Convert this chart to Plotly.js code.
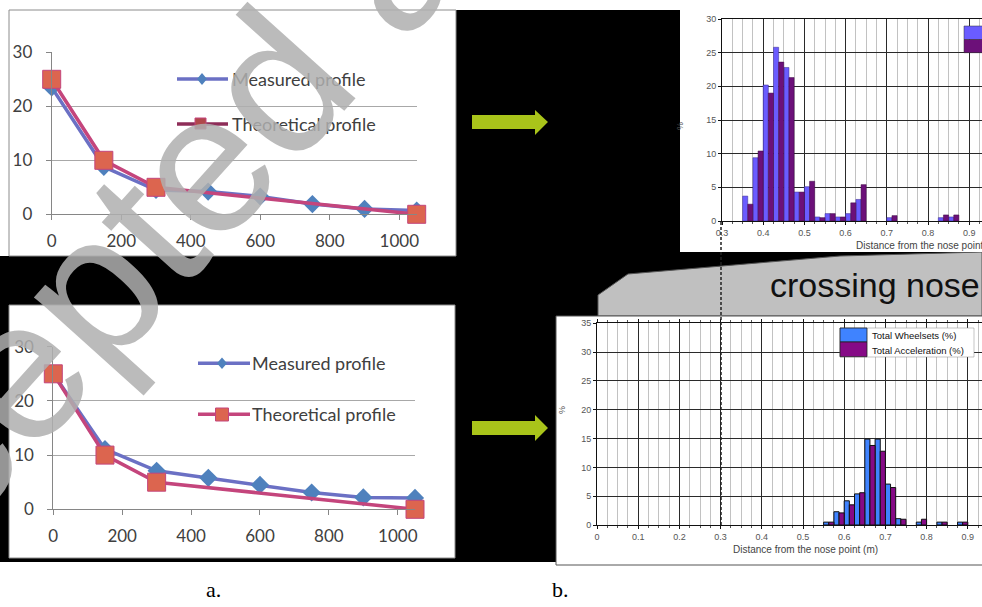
<!DOCTYPE html>
<html><head><meta charset="utf-8">
<script src="https://cdn.plot.ly/plotly-3.0.1.min.js"></script>
<style>html,body{margin:0;padding:0;background:#fff}#chart{width:982px;height:607px}</style>
</head><body><div id="chart"></div>
<script>
// ---- data ----
const profileX = [0, 150, 300, 450, 600, 750, 900, 1050];
const measuredA = [23.5, 8.8, 4.5, 4.2, 3.3, 1.9, 1.0, 0.7];
const measuredB = [25, 11.1, 7.1, 5.8, 4.5, 3.1, 2.2, 2.1];
const theoX = [0, 150, 300, 1050];
const theoA = [25, 10, 5, 0];
const theoB = [25, 10, 5, 0];
const legendNames = ["Measured profile", "Theoretical profile"];

const binsTop = [0.3625,0.3875,0.4125,0.4375,0.4625,0.4875,0.5125,0.5375,0.5625,0.5875,0.6125,0.6375,0.7125,0.8375,0.8625];
const wheelTop = [3.7,9.4,20.2,25.8,22.8,4.3,5.1,0.6,1.1,0.6,1.1,3.2,0.5,0.5,0.6];
const accelTop = [2.5,10.4,19.0,23.6,21.3,4.3,5.9,0.5,1.1,0.6,2.7,5.4,0.8,0.9,0.9];

const binsBot = [0.5625,0.5875,0.6125,0.6375,0.6625,0.6875,0.7125,0.7375,0.7875,0.8375,0.8875];
const wheelBot = [0.5,2.3,4.2,5.4,14.9,14.9,7.1,1.1,0.5,0.5,0.5];
const accelBot = [0.5,2.1,3.5,5.6,13.8,12.8,6.5,1.0,1.0,0.5,0.5];
const histNames = ["Total Wheelsets (%)", "Total Acceleration (%)"];

// ---- helpers (pixel -> paper) ----
const W = 982, H = 607;
const X = p => p / W;
const Y = p => 1 - p / H;
function path(pts){ return 'M' + pts.map(p => X(p[0]).toFixed(5) + ',' + Y(p[1]).toFixed(5)).join(' L') + ' Z'; }
function rect(x0,y0,x1,y1,fill,line,lw,layer){
  return {type:'rect', xref:'paper', yref:'paper', x0:X(x0), x1:X(x1), y0:Y(y1), y1:Y(y0),
    fillcolor:fill, line:{color:line||fill, width:lw===undefined?0:lw}, layer:layer||'below'};
}

const BLUE_M = '#6b70c4', DIAM = '#4f81bd', PINK = '#c4457c', SQ = '#dc654f';
const traces = [
  {x: profileX, y: measuredA, xaxis:'x', yaxis:'y', mode:'lines+markers', cliponaxis:false,
   line:{color:BLUE_M, width:3.5}, marker:{symbol:'diamond', size:14, color:DIAM}},
  {x: theoX, y: theoA, xaxis:'x', yaxis:'y', mode:'lines+markers', cliponaxis:false,
   line:{color:PINK, width:3.5}, marker:{symbol:'square', size:18, color:SQ, line:{color:PINK, width:1}}},
  {x: profileX, y: measuredB, xaxis:'x2', yaxis:'y2', mode:'lines+markers', cliponaxis:false,
   line:{color:BLUE_M, width:3.5}, marker:{symbol:'diamond', size:14, color:DIAM}},
  {x: theoX, y: theoB, xaxis:'x2', yaxis:'y2', mode:'lines+markers', cliponaxis:false,
   line:{color:PINK, width:3.5}, marker:{symbol:'square', size:18, color:SQ, line:{color:PINK, width:1}}},
  {type:'bar', x: binsTop, y: wheelTop, xaxis:'x3', yaxis:'y3', name:histNames[0],
   marker:{color:'#6a5cff', line:{color:'#3a2a8a', width:0.5}}},
  {type:'bar', x: binsTop, y: accelTop, xaxis:'x3', yaxis:'y3', name:histNames[1],
   marker:{color:'#6c1079', line:{color:'#3a0a40', width:0.5}}},
  {type:'bar', x: binsBot, y: wheelBot, xaxis:'x4', yaxis:'y4', name:histNames[0],
   marker:{color:'#3f83ff', line:{color:'#111', width:1}}},
  {type:'bar', x: binsBot, y: accelBot, xaxis:'x4', yaxis:'y4', name:histNames[1],
   marker:{color:'#860a86', line:{color:'#111', width:1}}}
];

const lineAxis = {showline:true, linecolor:'#868686', linewidth:1, ticks:'outside', ticklen:5, tickcolor:'#868686',
  zeroline:false, tickfont:{family:'Lato', size:17, color:'#404040'}};
const histAxisX = {showline:true, linecolor:'#111', linewidth:1, ticks:'outside', ticklen:3, tickcolor:'#111',
  zeroline:false, showgrid:true, gridcolor:'#2a2a2a', gridwidth:1, tick0:0, dtick:0.1,
  minor:{dtick:0.025, showgrid:true, gridcolor:'#c2c2c2', gridwidth:1, ticks:'outside', ticklen:2, tickcolor:'#555'},
  tickfont:{family:'Liberation Sans', size:9, color:'#555'}};
const histAxisY = {showline:true, linecolor:'#111', linewidth:1, ticks:'outside', ticklen:3, tickcolor:'#111',
  zeroline:false, showgrid:true, gridcolor:'#2a2a2a', gridwidth:1, tick0:0, dtick:5,
  tickfont:{family:'Liberation Sans', size:9, color:'#555'}};

const layout = {
  width: W, height: H, margin:{l:0,r:0,t:0,b:0}, paper_bgcolor:'#ffffff', plot_bgcolor:'rgba(0,0,0,0)',
  showlegend:false, barmode:'group', bargap:0, bargroupgap:0,
  xaxis: Object.assign({}, lineAxis, {domain:[X(51.7), X(416.7)], range:[0,1050], tick0:0, dtick:200, showgrid:false, anchor:'y', ticklabelstandoff:6}),
  yaxis: Object.assign({}, lineAxis, {domain:[Y(214.3), Y(52.3)], range:[0,30], tick0:0, dtick:10, showgrid:true, gridcolor:'#a8a8a8', anchor:'x', ticklabelstandoff:10}),
  xaxis2: Object.assign({}, lineAxis, {domain:[X(53.3), X(415)], range:[0,1050], tick0:0, dtick:200, showgrid:false, anchor:'y2', ticklabelstandoff:6}),
  yaxis2: Object.assign({}, lineAxis, {domain:[Y(509.3), Y(346.7)], range:[0,30], tick0:0, dtick:10, showgrid:true, gridcolor:'#a8a8a8', anchor:'x2', ticklabelstandoff:10}),
  xaxis3: Object.assign({}, histAxisX, {domain:[X(722), 1], range:[0.3, 0.3 + 260/412], anchor:'y3', mirror:true}),
  yaxis3: Object.assign({}, histAxisY, {domain:[Y(221), Y(19)], range:[0,30], anchor:'x3'}),
  xaxis4: Object.assign({}, histAxisX, {domain:[X(597), 1], range:[0, 385/412], anchor:'y4', mirror:'allticks'}),
  yaxis4: Object.assign({}, histAxisY, {domain:[Y(525), Y(323.3)], range:[0,35], anchor:'x4'}),
  shapes: [
    rect(456, 10, 680, 320, '#000'),
    rect(0, 256, 600, 562, '#000'),
    rect(556, 250, 982, 318, '#000'),
    {type:'path', xref:'paper', yref:'paper', layer:'below',
     path: path([[598,316],[598,295],[628,274],[840,256],[982,252],[982,316]]),
     fillcolor:'#c0c0c0', line:{color:'#555', width:1}},
    rect(9, 10, 456, 256, '#fff', '#8c8c8c', 1),
    rect(9, 305, 455, 558, '#fff', '#8c8c8c', 1),
    rect(680, -2, 990, 252, '#fff'),
    rect(556, 316, 990, 565, '#fff', '#555', 1),
    {type:'path', xref:'paper', yref:'paper', layer:'above', fillcolor:'#a9c41a', line:{width:0},
     path: path([[472,115],[535,115],[535,110],[548,122],[535,135],[535,129],[472,129]])},
    {type:'path', xref:'paper', yref:'paper', layer:'above', fillcolor:'#a9c41a', line:{width:0},
     path: path([[472,421],[535,421],[535,415],[548,428],[535,441],[535,435],[472,435]])},
    {type:'line', xref:'paper', yref:'paper', layer:'above', x0:X(721), x1:X(721), y0:Y(222), y1:Y(525),
     line:{color:'#222', width:1.5, dash:'3px,2px'}},
    {type:'line', xref:'paper', yref:'paper', layer:'above', x0:X(177), x1:X(228), y0:Y(79), y1:Y(79), line:{color:BLUE_M, width:3.5}},
    {type:'path', xref:'paper', yref:'paper', layer:'above', fillcolor:DIAM, line:{width:0},
     path: path([[202,73],[207,79],[202,85],[197,79]])},
    {type:'line', xref:'paper', yref:'paper', layer:'above', x0:X(177), x1:X(228), y0:Y(124), y1:Y(124), line:{color:'#8e2d58', width:3.5}},
    rect(195, 118, 206, 129, '#b0474a', '#c4457c', 1, 'above'),
    {type:'line', xref:'paper', yref:'paper', layer:'above', x0:X(198), x1:X(250), y0:Y(363.3), y1:Y(363.3), line:{color:BLUE_M, width:3.5}},
    {type:'path', xref:'paper', yref:'paper', layer:'above', fillcolor:DIAM, line:{width:0},
     path: path([[222,357.5],[227,363.3],[222,369],[217,363.3]])},
    {type:'line', xref:'paper', yref:'paper', layer:'above', x0:X(198), x1:X(250), y0:Y(414.3), y1:Y(414.3), line:{color:PINK, width:3.5}},
    rect(215.5, 408, 228.5, 421, SQ, PINK, 1, 'above'),
    rect(964, 26, 990, 39.5, '#6a5cff', '#333', 0.5, 'above'),
    rect(964, 39.5, 990, 52.7, '#6c1079', '#333', 0.5, 'above'),
    rect(840, 328, 974, 357, '#fff', '#888', 0.5, 'above'),
    rect(840, 328, 867, 342, '#3f83ff', '#222', 0.8, 'above'),
    rect(840, 342, 867, 356.7, '#860a86', '#222', 0.8, 'above')
  ],
  annotations: [
    {text:legendNames[0], x:X(230), y:Y(79), xref:'paper', yref:'paper', xanchor:'left', yanchor:'middle', showarrow:false, font:{family:'Lato', size:18, color:'#404040'}},
    {text:legendNames[1], x:X(230), y:Y(124), xref:'paper', yref:'paper', xanchor:'left', yanchor:'middle', showarrow:false, font:{family:'Lato', size:18, color:'#404040'}},
    {text:legendNames[0], x:X(250), y:Y(363.3), xref:'paper', yref:'paper', xanchor:'left', yanchor:'middle', showarrow:false, font:{family:'Lato', size:18, color:'#404040'}},
    {text:legendNames[1], x:X(250), y:Y(414.3), xref:'paper', yref:'paper', xanchor:'left', yanchor:'middle', showarrow:false, font:{family:'Lato', size:18, color:'#404040'}},
    {text:histNames[0], x:X(870), y:Y(335.5), xref:'paper', yref:'paper', xanchor:'left', yanchor:'middle', showarrow:false, font:{family:'Liberation Sans', size:9.5, color:'#111'}},
    {text:histNames[1], x:X(870), y:Y(350), xref:'paper', yref:'paper', xanchor:'left', yanchor:'middle', showarrow:false, font:{family:'Liberation Sans', size:9.5, color:'#111'}},
    {text:'Distance from the nose point (m)', x:X(928), y:Y(245.5), xref:'paper', yref:'paper', xanchor:'center', yanchor:'middle', showarrow:false, font:{family:'Liberation Sans', size:10, color:'#444'}},
    {text:'Distance from the nose point (m)', x:X(805.5), y:Y(549), xref:'paper', yref:'paper', xanchor:'center', yanchor:'middle', showarrow:false, font:{family:'Liberation Sans', size:10, color:'#444'}},
    {text:'%', x:X(687), y:Y(120), xref:'paper', yref:'paper', textangle:-90, showarrow:false, font:{family:'Liberation Sans', size:9, color:'#555'}},
    {text:'%', x:X(562), y:Y(416), xref:'paper', yref:'paper', textangle:-90, showarrow:false, font:{family:'Liberation Sans', size:9, color:'#555'}},
    {text:'crossing nose', x:X(768), y:Y(285), xref:'paper', yref:'paper', xanchor:'left', yanchor:'middle', showarrow:false, font:{family:'Liberation Sans', size:34, color:'#111'}},
    {text:'a.', x:X(213), y:Y(589), xref:'paper', yref:'paper', xanchor:'center', yanchor:'middle', showarrow:false, font:{family:'Liberation Serif', size:22, color:'#000'}},
    {text:'b.', x:X(560), y:Y(589), xref:'paper', yref:'paper', xanchor:'center', yanchor:'middle', showarrow:false, font:{family:'Liberation Serif', size:22, color:'#000'}},
    {text:'Accepted article', x:X(230), y:Y(133), xref:'paper', yref:'paper', xanchor:'center', yanchor:'middle', textangle:-48, showarrow:false, font:{family:'Liberation Sans', size:200, color:'rgba(175,175,175,0.85)'}}
  ]
};
Plotly.newPlot('chart', traces, layout, {staticPlot:true, displayModeBar:false});
</script></body></html>
